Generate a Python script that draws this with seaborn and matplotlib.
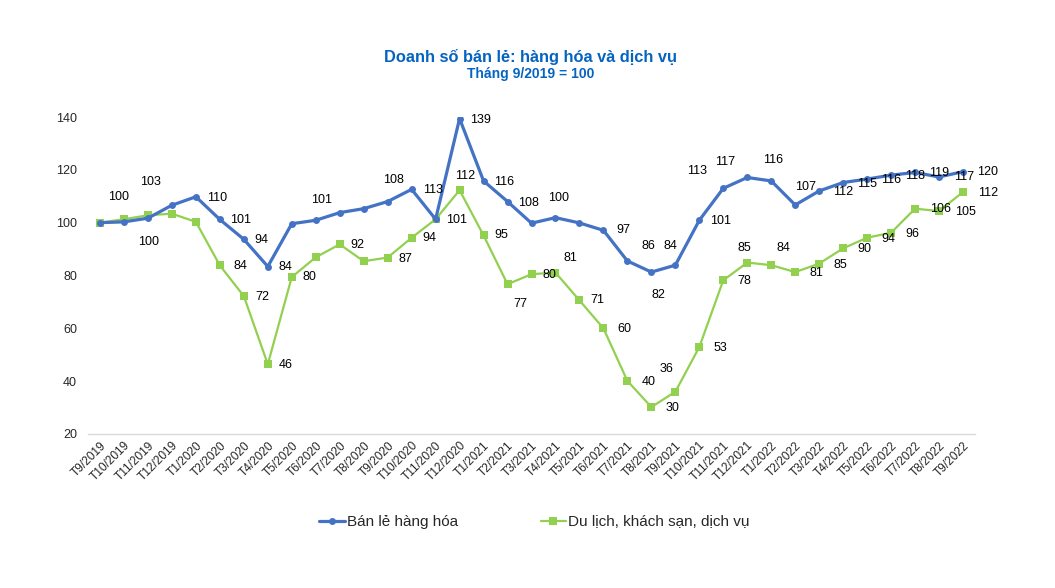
import numpy as np
import pandas as pd
import matplotlib
matplotlib.use("Agg")
import matplotlib.pyplot as plt
import seaborn as sns

# Data (index T9/2019 = 100)
months = ["T9/2019", "T10/2019", "T11/2019", "T12/2019",
          "T1/2020", "T2/2020", "T3/2020", "T4/2020", "T5/2020", "T6/2020",
          "T7/2020", "T8/2020", "T9/2020", "T10/2020", "T11/2020", "T12/2020",
          "T1/2021", "T2/2021", "T3/2021", "T4/2021", "T5/2021", "T6/2021",
          "T7/2021", "T8/2021", "T9/2021", "T10/2021", "T11/2021", "T12/2021",
          "T1/2022", "T2/2022", "T3/2022", "T4/2022", "T5/2022", "T6/2022",
          "T7/2022", "T8/2022", "T9/2022"]

ban_le = [100.0, 100.3, 101.7, 106.6, 109.8, 101.2, 93.7, 83.4, 99.6, 100.9,
          103.8, 105.3, 108.0, 112.6, 101.3, 139.4, 115.8, 108.0, 99.8, 101.9,
          99.9, 97.1, 85.5, 81.3, 83.9, 100.9, 113.0, 117.1, 115.8, 106.7,
          112.0, 115.2, 116.5, 118.0, 119.0, 117.3, 119.3]

du_lich = [100.0, 101.3, 102.8, 103.4, 100.3, 83.8, 72.2, 46.4, 79.4, 86.9,
           91.8, 85.4, 86.8, 94.3, 101.3, 112.3, 95.2, 76.7, 80.5, 81.1,
           70.6, 60.0, 40.1, 30.2, 36.0, 52.9, 78.2, 84.9, 83.9, 81.3,
           84.5, 90.3, 94.3, 96.2, 105.3, 104.4, 111.6]

# data label texts as shown on the chart ('' = no label)
ban_le_labels = ["", "100", "", "", "110", "101", "94", "84", "", "101",
                 "", "", "108", "113", "", "139", "116", "108", "100", "",
                 "", "97", "86", "82", "84", "101", "113", "117", "116", "107",
                 "112", "115", "116", "118", "119", "117", "120"]
du_lich_labels = ["", "100", "103", "", "", "84", "72", "46", "80", "",
                  "92", "", "87", "94", "101", "112", "95", "77", "80", "81",
                  "71", "60", "40", "30", "36", "53", "78", "85", "84", "81",
                  "85", "90", "94", "96", "106", "105", "112"]

# label offsets in pixels (dx right, dy down); default is to the right
ban_le_offsets = {1: (-5, -25), 6: (18, 1), 7: (18, 0), 9: (6, -20), 12: (6, -22),
                  18: (27, -25), 21: (20, 0), 22: (21, -15), 23: (7, 23),
                  24: (-5, -19), 26: (-26, -17), 27: (-22, -15), 28: (2, -21),
                  29: (10, -18), 30: (24, 1), 31: (24, 1), 32: (24, 1),
                  33: (24, 1), 34: (24, 1), 35: (25, 0), 36: (25, 0)}
du_lich_offsets = {1: (25, 23), 2: (3, -33), 6: (19, 1), 7: (18, 1), 8: (18, 0),
                   10: (18, 1), 12: (18, 1), 13: (18, 0), 15: (6, -14),
                   16: (18, 0), 17: (13, 20), 18: (18, 1), 19: (15, -15),
                   20: (18, 0), 24: (-9, -23), 27: (-3, -15), 28: (12, -17),
                   34: (25, 0), 35: (26, 1), 36: (25, 1)}

blue = "#4472C4"
green = "#92D050"
title_color = "#0563C1"

df = pd.DataFrame({"month": months, "Bán lẻ hàng hóa": ban_le,
                   "Du lịch, khách sạn, dịch vụ": du_lich})

sns.set_style("white")
plt.rcParams["font.family"] = ["Liberation Sans", "DejaVu Sans"]

fig = plt.figure(figsize=(10.55, 5.88), dpi=100)
ax = fig.add_axes([88 / 1055, 1 - 434 / 588, (975 - 88) / 1055, (434 - 117) / 588])

sns.lineplot(data=df, x="month", y="Bán lẻ hàng hóa", ax=ax, color=blue,
             linewidth=2.3, marker="o", markersize=5, markeredgewidth=0,
             sort=False, label="Bán lẻ hàng hóa", zorder=3)
sns.lineplot(data=df, x="month", y="Du lịch, khách sạn, dịch vụ", ax=ax,
             color=green, linewidth=1.6, marker="s", markersize=6,
             markeredgewidth=0, sort=False,
             label="Du lịch, khách sạn, dịch vụ", zorder=2)

# data labels
for vals, labels, offs in [(ban_le, ban_le_labels, ban_le_offsets),
                           (du_lich, du_lich_labels, du_lich_offsets)]:
    for i, (v, t) in enumerate(zip(vals, labels)):
        if not t:
            continue
        dx, dy = offs.get(i, (21, 1))
        ax.annotate(t, (i, v), xytext=(dx, -dy), textcoords="offset pixels",
                    ha="center", va="center", fontsize=9, color="#000000",
                    zorder=5)

ax.set_xlim(-0.5, len(months) - 0.5)
ax.set_ylim(20, 140)
ax.set_yticks(range(20, 141, 20))
ax.set_xticks(range(len(months)))
ax.set_xticklabels(months, rotation=45, ha="right", va="top",
                   rotation_mode="anchor", fontsize=8.6)
ax.set_xticks(np.arange(-0.5, len(months), 1), minor=True)
ax.tick_params(axis="x", which="major", length=0, pad=4)
ax.tick_params(axis="x", which="minor", length=4, color="#D9D9D9", width=1)
ax.tick_params(axis="y", length=0, labelsize=9, pad=8)
ax.set_xlabel("")
ax.set_ylabel("")
ax.grid(False)
for s in ["top", "right", "left"]:
    ax.spines[s].set_visible(False)
ax.spines["bottom"].set_color("#D9D9D9")
ax.spines["bottom"].set_linewidth(1)

handles, lbls = ax.get_legend_handles_labels()
ax.get_legend().remove()
fig.legend(handles, lbls, loc="center", bbox_to_anchor=(0.5 + 7 / 1055, 1 - 522 / 588),
           ncol=2, frameon=False, fontsize=11, handlelength=1.65,
           handletextpad=0.15, columnspacing=5.4)

fig.text(531 / 1055, 1 - 57 / 588, "Doanh số bán lẻ: hàng hóa và dịch vụ",
         ha="center", va="center", fontsize=11.8, fontweight="bold",
         color=title_color)
fig.text(531 / 1055, 1 - 74 / 588, "Tháng 9/2019 = 100", ha="center",
         va="center", fontsize=10, fontweight="bold", color=title_color)

fig.savefig("out.png", dpi=100)
